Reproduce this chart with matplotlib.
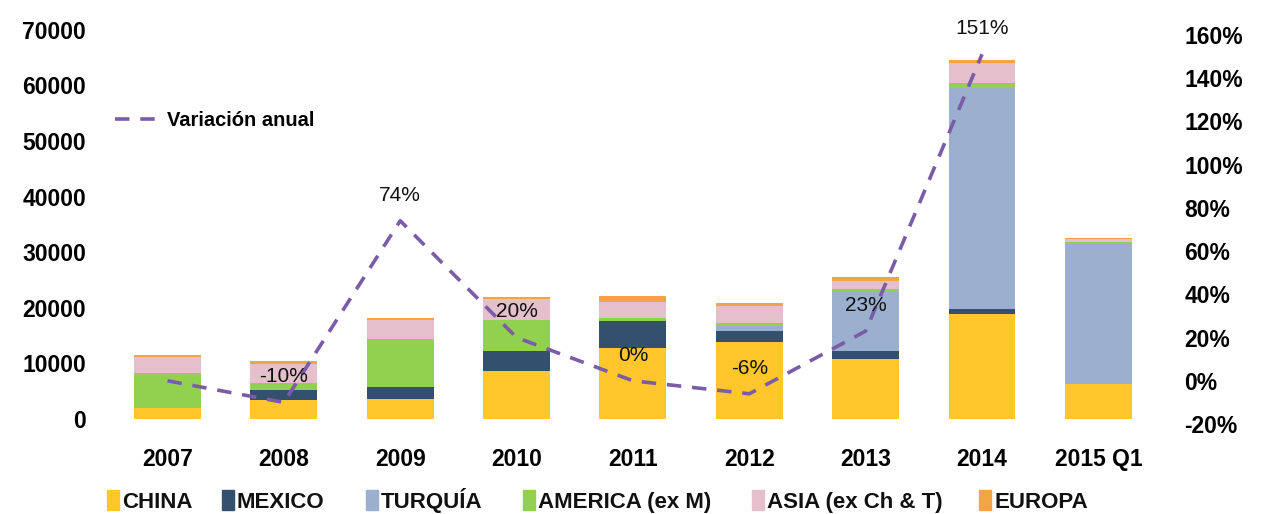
import matplotlib
matplotlib.use("Agg")
import matplotlib.pyplot as plt
from matplotlib.patches import Rectangle
import numpy as np

plt.rcParams["font.family"] = ["Liberation Sans", "DejaVu Sans"]

years = ["2007", "2008", "2009", "2010", "2011", "2012", "2013", "2014", "2015 Q1"]
china = [1900, 3500, 3600, 8600, 12850, 13800, 10800, 18900, 6300]
mexico = [0, 1800, 2100, 3600, 4800, 2000, 1350, 900, 0]
turquia = [0, 0, 0, 0, 0, 1000, 10850, 39700, 25200]
america = [6300, 1100, 8650, 5650, 600, 450, 350, 1000, 300]
asia = [2900, 3500, 3550, 3650, 2750, 3050, 1450, 3500, 500]
europa = [500, 500, 350, 500, 1100, 500, 800, 600, 300]

var_years = years[:8]
variacion = [0, -10, 74, 20, 0, -6, 23, 151]
var_labels = ["", "-10%", "74%", "20%", "0%", "-6%", "23%", "151%"]

series = [("CHINA", china, "#FFC72C"),
          ("MEXICO", mexico, "#33506E"),
          ("TURQUÍA", turquia, "#9BB0CE"),
          ("AMERICA (ex M)", america, "#92D050"),
          ("ASIA (ex Ch & T)", asia, "#E5BFCB"),
          ("EUROPA", europa, "#F5A443")]

W, H = 1266, 514
fig = plt.figure(figsize=(W / 100, H / 100), dpi=100)
ax = fig.add_axes([0.079, 0.175, 0.841, 0.767])
x = np.arange(len(years))
bottom = np.zeros(len(years))
for name, vals, col in series:
    ax.bar(x, vals, 0.575, bottom=bottom, color=col, label=name, linewidth=0)
    bottom += np.array(vals)

ax.set_xlim(-0.58, 8.57)
ax.set_ylim(-900, 70000)
ax.set_yticks(range(0, 70001, 10000))
ax.set_xticks(x)
ax.set_xticklabels(years)
for s in ax.spines.values():
    s.set_visible(False)
ax.tick_params(length=0, labelsize=16.5)
ax.tick_params(axis="x", pad=17)
ax.tick_params(axis="y", pad=10)
for t in ax.get_xticklabels() + ax.get_yticklabels():
    t.set_fontweight("bold")

ax2 = ax.twinx()
xv = np.arange(len(var_years))
ax2.plot(xv, variacion, color="#7A5CA8", lw=2.6, ls=(0, (4, 3)),
         label="Variación anual")
for xi, v, lab in zip(xv, variacion, var_labels):
    if lab:
        ax2.text(xi, v + 7.5, lab, ha="center", va="bottom", fontsize=15,
                 color="#111111")
ax2.set_ylim(-20, 162.3)
ax2.set_yticks(range(-20, 161, 20))
ax2.set_yticklabels([f"{v}%" for v in range(-20, 161, 20)])
for s in ax2.spines.values():
    s.set_visible(False)
ax2.tick_params(length=0, labelsize=16.5, pad=14)
for t in ax2.get_yticklabels():
    t.set_fontweight("bold")

ax2.legend(loc="upper left", bbox_to_anchor=(-0.003, 0.84), frameon=False,
           handlelength=2.2, handletextpad=0.4,
           prop={"weight": "bold", "size": 14.5})

# bottom legend, entries placed like the original
sq_x = [107, 222, 366, 523, 752, 979]
ly = 500
for (name, _, col), px in zip(series, sq_x):
    fig.patches.append(Rectangle((px / W, (H - ly - 10) / H), 12 / W, 20 / H,
                                 transform=fig.transFigure, color=col))
    fig.text((px + 15) / W, (H - ly - 8) / H, name, ha="left", va="baseline",
             fontsize=16, fontweight="bold", color="#111111")

fig.savefig("out.png", dpi=100)
